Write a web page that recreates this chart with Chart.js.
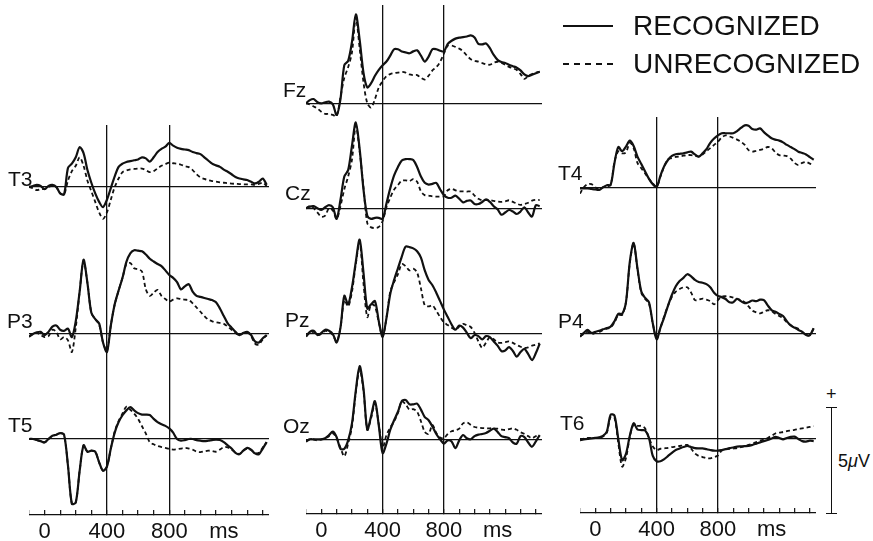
<!DOCTYPE html>
<html>
<head>
<meta charset="utf-8">
<title>ERP recognized vs unrecognized</title>
<script src="https://cdn.jsdelivr.net/npm/chart.js@4.4.1/dist/chart.umd.min.js"></script>
<style>
  body { margin: 0; background: #fff; }
  #fig {
    position: relative;
    width: 873px;
    height: 541px;
    overflow: hidden;
    font-family: "Liberation Sans", Arial, sans-serif;
    color: #111;
  }
  #fig canvas { position: absolute; }
  .lbl { position: absolute; font-size: 21px; line-height: 21px; white-space: nowrap; }
  .legend-text { position: absolute; font-size: 28px; line-height: 28px; white-space: nowrap; }
  .legend-line { position: absolute; width: 50px; height: 0; }
  .bar { position: absolute; background: #111; }
  .small { position: absolute; font-size: 18px; line-height: 18px; white-space: nowrap; }
</style>
</head>
<body>
<div id="fig"></div>
<script>
// time base (ms), one value every 25 ms
const times = [
  -100, -75, -50, -25, 0, 25, 50, 75,
  100, 125, 150, 175, 200, 225, 250, 275,
  300, 325, 350, 375, 400, 425, 450, 475,
  500, 525, 550, 575, 600, 625, 650, 675,
  700, 725, 750, 775, 800, 825, 850, 875,
  900, 925, 950, 975, 1000, 1025, 1050, 1075,
  1100, 1125, 1150, 1175, 1200, 1225, 1250, 1275,
  1300, 1325, 1350, 1375, 1400, 1425,
];

const tickMarks = [-100, 0, 100, 200, 300, 400, 500, 600, 700, 800, 900, 1000, 1100, 1200, 1300, 1400];
const tickLabels = [0, 400, 800];
const unitLabel = "ms";
const unitAt = 1150;
const markerTimes = [400, 800];
const seriesNames = ["RECOGNIZED", "UNRECOGNIZED"];
const scaleBarUV = 5;

// amplitudes in microvolts (positive up)
const t3Rec = [
  0, 0.05, 0.1, 0.05, -0.1, 0.05, 0.1, 0,
  -0.3, -0.35, 0.9, 1.1, 1.4, 1.88, 1.6, 0.8,
  0.2, -0.3, -0.7, -0.95, -0.6, -0.05, 0.5, 0.95,
  1.1, 1.18, 1.22, 1.26, 1.3, 1.4, 1.35, 1.2,
  1.4, 1.65, 1.8, 1.9, 2.08, 1.95, 1.85, 1.8,
  1.77, 1.74, 1.65, 1.6, 1.55, 1.4, 1.25, 1.1,
  1.02, 0.95, 0.82, 0.72, 0.6, 0.47, 0.4, 0.36,
  0.33, 0.25, 0.17, 0.25, 0.4, 0.1,
];
const t3Unrec = [
  0, -0.05, -0.15, -0.1, -0.1, 0, 0.05, 0,
  -0.3, -0.35, 0.3, 0.75, 1.0, 1.4, 1.0, 0.3,
  -0.2, -0.7, -1.2, -1.5, -1.2, -0.6, 0, 0.4,
  0.7, 0.78, 0.83, 0.85, 0.87, 0.87, 0.8, 0.7,
  0.75, 0.88, 1.0, 1.08, 1.15, 1.12, 1.1, 1.05,
  0.98, 0.94, 0.8, 0.6, 0.45, 0.38, 0.32, 0.28,
  0.25, 0.22, 0.2, 0.18, 0.16, 0.15, 0.14, 0.13,
  0.12, 0.12, 0.1, 0.15, 0.2, 0.05,
];
const p3Rec = [
  -0.13, 0, 0.08, 0.1, -0.05, 0.1, 0.35, 0.4,
  0.2, 0.15, 0.25, -0.15, 0.6, 2.0, 3.5, 2.4,
  1.0, 0.7, 0.5, -0.4, -0.85, 0.4, 1.4, 2.05,
  2.65, 3.4, 3.8, 3.95, 3.93, 3.9, 3.75, 3.55,
  3.42, 3.3, 3.2, 3.0, 2.78, 2.65, 2.45, 2.1,
  2.25, 2.35, 2.0, 1.8, 1.75, 1.7, 1.65, 1.6,
  1.5, 1.2, 0.85, 0.5, 0.3, 0.1, -0.05, 0.05,
  0.1, -0.05, -0.35, -0.4, -0.2, -0.05,
];
const p3Unrec = [
  -0.1, 0, 0.05, -0.05, -0.15, -0.1, 0.2, 0.1,
  -0.25, -0.15, -0.3, -0.85, 0.3, 2.0, 3.45, 2.4,
  1.0, 0.7, 0.45, -0.4, -0.8, 0.4, 1.4, 2.05,
  2.65, 3.3, 3.35, 3.1, 3.05, 2.95, 2.1, 1.8,
  1.95, 2.08, 1.8, 1.65, 1.53, 1.62, 1.68, 1.65,
  1.62, 1.6, 1.45, 1.25, 1.05, 0.85, 0.68, 0.6,
  0.55, 0.52, 0.48, 0.35, 0.2, 0.05, -0.05, 0.05,
  0.1, -0.1, -0.45, -0.5, -0.25, -0.05,
];
const t5Rec = [
  0, 0, -0.05, -0.1, -0.16, 0, 0.15, 0.2,
  0.28, 0.2, -1.25, -3.05, -3.0, -1.5, -0.3, -0.6,
  -0.55, -0.6, -1.1, -1.5, -1.3, -0.45, 0.3, 0.8,
  1.12, 1.35, 1.5, 1.35, 1.22, 1.15, 1.15, 1.13,
  0.95, 0.8, 0.7, 0.62, 0.5, 0.3, 0, -0.08,
  -0.05, 0, 0, -0.05, -0.08, -0.1, -0.08, -0.05,
  -0.03, -0.05, -0.15, -0.3, -0.45, -0.65, -0.72, -0.55,
  -0.42, -0.5, -0.68, -0.72, -0.45, -0.15,
];
const t5Unrec = [
  0, 0, -0.05, -0.1, -0.16, 0, 0.15, 0.2,
  0.28, 0.2, -1.25, -3.05, -3.0, -1.5, -0.3, -0.6,
  -0.55, -0.6, -1.1, -1.5, -1.3, -0.45, 0.35, 0.85,
  1.2, 1.52, 1.38, 1.2, 0.95, 0.6, 0.25, -0.15,
  -0.25, -0.33, -0.38, -0.42, -0.47, -0.5, -0.48, -0.45,
  -0.42, -0.45, -0.5, -0.6, -0.62, -0.58, -0.55, -0.57,
  -0.6, -0.5, -0.38, -0.4, -0.5, -0.62, -0.7, -0.55,
  -0.45, -0.52, -0.66, -0.65, -0.4, -0.15,
];
const fzRec = [
  0, 0.15, 0.2, 0.05, 0, 0.05, 0.08, -0.05,
  -0.55, 0.2, 1.8, 2.0, 2.9, 4.2, 3.0, 1.45,
  0.75, 0.95, 1.3, 1.58, 1.8, 1.97, 2.25, 2.55,
  2.55, 2.44, 2.4, 2.36, 2.45, 2.5, 2.25, 1.97,
  2.2, 2.55, 2.55, 2.48, 2.45, 2.8, 2.95, 3.05,
  3.1, 3.12, 3.15, 3.2, 3.1, 2.8, 2.78, 2.82,
  2.6, 2.28, 2.05, 1.95, 1.9, 1.82, 1.75, 1.68,
  1.55, 1.36, 1.28, 1.35, 1.42, 1.49,
];
const fzUnrec = [
  0, -0.05, -0.15, -0.25, -0.4, -0.5, -0.5, -0.55,
  -0.62, 0.3, 1.2, 1.7, 2.4, 4.05, 2.6, 1.0,
  0, -0.2, 0.2, 0.75, 1.05, 1.28, 1.38, 1.42,
  1.45, 1.48, 1.45, 1.36, 1.33, 1.33, 1.2, 1.12,
  1.3, 1.55, 1.7, 1.95, 2.35, 2.72, 2.72, 2.66,
  2.58, 2.45, 2.25, 2.08, 2.0, 1.97, 1.9, 1.84,
  1.82, 1.92, 1.96, 1.9, 1.82, 1.72, 1.65, 1.57,
  1.38, 1.15, 1.28, 1.38, 1.45, 1.5,
];
const czRec = [
  0, 0.08, 0.1, 0, -0.08, 0.05, 0.15, 0.05,
  -0.5, 0.4, 1.5, 1.8, 2.95, 4.05, 2.8, 0.9,
  -0.35, -0.5, -0.45, -0.45, -0.5, 0.22, 0.95, 1.55,
  1.95, 2.25, 2.32, 2.32, 2.28, 1.95, 1.5, 1.2,
  1.12, 1.15, 1.2, 0.9, 0.62, 0.5, 0.5, 0.6,
  0.45, 0.28, 0.35, 0.37, 0.2, 0.2, 0.3, 0.42,
  0.3, 0.1, -0.05, -0.3, -0.2, -0.08, -0.15, -0.27,
  -0.15, 0.05, -0.2, -0.39, 0.15, 0.1,
];
const czUnrec = [
  0, 0.1, 0, -0.2, -0.4, -0.35, 0, -0.1,
  -0.5, 0.1, 0.9, 1.5, 2.3, 3.9, 2.7, 1.0,
  -0.7, -0.9, -0.93, -0.88, -0.6, 0.05, 0.5, 0.88,
  1.1, 1.3, 1.32, 1.28, 1.38, 1.25, 0.8, 0.62,
  0.6, 0.56, 0.55, 0.55, 0.58, 0.85, 0.92, 0.85,
  0.8, 0.8, 0.79, 0.79, 0.6, 0.45, 0.38, 0.39,
  0.39, 0.35, 0.32, 0.3, 0.33, 0.38, 0.3, 0.22,
  0.16, 0.2, 0.26, 0.36, 0.4, 0.39,
];
const pzRec = [
  -0.12, 0.1, 0.15, -0.05, 0.05, 0.2, 0.15, 0,
  -0.4, 0.3, 1.8, 1.4, 2.2, 3.4, 4.45, 2.9,
  1.2, 1.4, 1.55, 0.6, -0.13, 0.75, 1.9, 2.55,
  3.1, 3.65, 4.12, 4.1, 4.04, 3.9, 3.6, 3.0,
  2.55, 2.3, 1.95, 1.55, 1.15, 0.8, 0.45, 0.2,
  0.4, 0.3, 0.05, -0.2, -0.05, -0.1, -0.25, -0.1,
  -0.15, -0.35, -0.55, -0.8, -0.78, -0.62, -0.8, -1.07,
  -0.85, -0.7, -0.95, -1.23, -0.9, -0.45,
];
const pzUnrec = [
  -0.1, 0.05, 0.1, -0.05, 0, 0.15, 0.1, -0.05,
  -0.35, 0.3, 1.6, 1.3, 2.0, 3.3, 4.35, 2.4,
  0.8, 1.4, 1.3, 0.55, -0.13, 0.75, 2.0, 2.45,
  2.82, 3.3, 3.2, 3.0, 3.08, 2.9, 2.15, 1.35,
  1.3, 1.35, 1.1, 0.8, 0.55, 0.42, 0.3, 0.2,
  0.35, 0.48, 0.4, 0.33, 0.05, -0.35, -0.65, -0.4,
  -0.15, -0.25, -0.4, -0.42, -0.38, -0.35, -0.42, -0.52,
  -0.6, -0.66, -0.63, -0.55, -0.5, -0.44,
];
const ozRec = [
  -0.11, 0, 0, 0, 0, 0.05, 0.2, 0.36,
  0.1, -0.45, -0.45, -0.05, 0.75, 2.3, 3.45, 2.4,
  0.45, 1.1, 1.8, 0.65, -0.65, -0.2, 0.45, 0.9,
  1.3, 1.8, 1.85, 1.65, 1.65, 1.68, 1.4, 1.05,
  0.9, 0.6, 0.25, 0, -0.2, -0.05, -0.1, -0.42,
  -0.05, 0.2, 0.05, 0, 0.15, 0.22, 0.25, 0.3,
  0.4, 0.5, 0.35, 0.15, 0.1, 0.05, -0.15, -0.2,
  0.15, 0.1, -0.15, -0.35, -0.1, 0.2,
];
const ozUnrec = [
  -0.05, 0, 0, -0.05, 0, 0.05, 0.15, 0.28,
  0.05, -0.4, -0.8, -0.2, 0.6, 2.2, 3.3, 2.3,
  0.45, 1.0, 1.7, 0.7, -0.4, 0.2, 0.55, 0.85,
  1.25, 1.8, 1.65, 1.4, 1.42, 1.3, 0.85, 0.35,
  0.25, 0.68, 0.3, 0.08, 0.05, 0.25, 0.38, 0.42,
  0.5, 0.75, 0.8, 0.68, 0.58, 0.55, 0.53, 0.52,
  0.52, 0.52, 0.5, 0.46, 0.44, 0.48, 0.52, 0.45,
  0.33, 0.26, 0.15, 0.05, 0.15, 0.2,
];
const t4Rec = [
  -0.05, -0.05, -0.05, -0.08, -0.1, -0.12, 0, 0.1,
  0.12, 1.15, 1.9, 1.7, 1.92, 2.2, 1.95, 1.45,
  1.1, 0.75, 0.4, 0.15, 0.02, 0.55, 1.0, 1.3,
  1.48, 1.56, 1.58, 1.6, 1.65, 1.68, 1.55, 1.45,
  1.6, 1.8, 2.1, 2.3, 2.45, 2.55, 2.55, 2.55,
  2.55, 2.65, 2.8, 2.92, 2.9, 2.75, 2.72, 2.78,
  2.6, 2.45, 2.31, 2.25, 2.2, 2.12, 2.0, 1.9,
  1.8, 1.68, 1.62, 1.55, 1.42, 1.3,
];
const t4Unrec = [
  -0.3, 0, 0.15, 0.15, 0, -0.1, 0, 0.05,
  0.1, 1.2, 1.7, 1.6, 1.65, 2.1, 1.85, 1.15,
  0.9, 0.65, 0.4, 0.18, 0.02, 0.5, 1.0, 1.33,
  1.38, 1.43, 1.46, 1.49, 1.52, 1.52, 1.48, 1.45,
  1.55, 1.7, 1.85, 2.0, 2.15, 2.35, 2.45, 2.4,
  2.33, 2.25, 2.15, 2.0, 1.75, 1.68, 1.72, 1.76,
  1.82, 1.9, 1.85, 1.65, 1.52, 1.5, 1.47, 1.35,
  1.15, 1.05, 1.15, 1.2, 1.12, 1.05,
];
const p4Rec = [
  -0.13, 0.05, 0.19, 0.05, 0.1, 0.15, 0.22, 0.28,
  0.35, 0.6, 0.95, 0.95, 1.5, 3.4, 4.3, 3.1,
  2.0, 1.7, 1.5, 0.5, -0.25, 0.3, 0.8, 1.35,
  1.85, 2.25, 2.5, 2.65, 2.82, 2.72, 2.55, 2.45,
  2.42, 2.35, 2.2, 1.95, 1.8, 1.74, 1.65, 1.5,
  1.5, 1.66, 1.55, 1.45, 1.5, 1.58, 1.55, 1.62,
  1.6, 1.35, 1.13, 1.05, 0.95, 0.85, 0.6, 0.4,
  0.3, 0.19, 0.1, -0.05, -0.05, 0.27,
];
const p4Unrec = [
  -0.1, 0, 0.1, 0, 0.05, 0.1, 0.18, 0.25,
  0.3, 0.55, 0.9, 0.9, 1.5, 3.35, 4.28, 3.05,
  1.95, 1.65, 1.45, 0.5, -0.22, 0.3, 0.85, 1.35,
  1.75, 2.0, 2.12, 2.2, 2.2, 1.95, 1.6, 1.62,
  1.67, 1.62, 1.55, 1.4, 1.6, 1.76, 1.78, 1.76,
  1.72, 1.65, 1.6, 1.5, 1.3, 1.1, 1.02, 0.97,
  1.05, 1.12, 1.08, 0.95, 0.85, 0.75, 0.55, 0.42,
  0.32, 0.25, 0.1, -0.05, -0.05, 0.27,
];
const t6Rec = [
  -0.05, -0.02, 0, 0.03, 0.05, 0.08, 0.15, 0.35,
  1.15, 1.1, 0, -1.0, -0.7, 0.15, 0.74, 0.45,
  0.42, 0.4, 0.05, -0.8, -1.05, -1.05, -0.95, -0.8,
  -0.65, -0.52, -0.45, -0.38, -0.33, -0.38, -0.43, -0.44,
  -0.44, -0.48, -0.52, -0.55, -0.55, -0.52, -0.48, -0.43,
  -0.4, -0.36, -0.35, -0.34, -0.33, -0.28, -0.22, -0.16,
  -0.1, -0.05, 0.02, 0.1, 0.05, -0.02, 0.05, 0.1,
  0.11, 0, -0.1, -0.12, -0.08, -0.1,
];
const t6Unrec = [
  -0.02, 0.02, 0.05, 0.05, 0.05, 0.05, 0.12, 0.3,
  1.05, 1.0, -0.2, -1.3, -0.9, 0.1, 0.7, 0.62,
  0.62, 0.5, 0.05, -0.35, -0.52, -0.46, -0.44, -0.42,
  -0.38, -0.36, -0.33, -0.3, -0.28, -0.45, -0.68, -0.8,
  -0.85, -0.9, -0.91, -0.86, -0.78, -0.55, -0.5, -0.47,
  -0.45, -0.43, -0.38, -0.33, -0.28, -0.22, -0.15, -0.08,
  -0.03, 0.05, 0.15, 0.26, 0.3, 0.33, 0.37, 0.4,
  0.43, 0.47, 0.5, 0.53, 0.57, 0.61,
];

// =================== layout ===================

const ink = "#111";
const pxPerUV = 21.2;
const xMin = -100;
const xMax = 1440;

const columns = [
  { left: 29, width: 240 },
  { left: 306, width: 236 },
  { left: 580, width: 236 },
];

const panels = [
  { name: "T3", rec: t3Rec, unrec: t3Unrec, col: 0, top: 125, bottom: 235, base: 187, lx: 8, ly: 186 },
  { name: "P3", rec: p3Rec, unrec: p3Unrec, col: 0, top: 235, bottom: 380, base: 334, lx: 7, ly: 328 },
  { name: "T5", rec: t5Rec, unrec: t5Unrec, col: 0, top: 380, bottom: 541, axisY: 515, base: 439, lx: 8, ly: 432 },
  { name: "Fz", rec: fzRec, unrec: fzUnrec, col: 1, top: 5, bottom: 118, base: 103.3, lx: 283, ly: 97 },
  { name: "Cz", rec: czRec, unrec: czUnrec, col: 1, top: 118, bottom: 233, base: 208.3, lx: 285, ly: 200 },
  { name: "Pz", rec: pzRec, unrec: pzUnrec, col: 1, top: 233, bottom: 362, base: 334, lx: 285, ly: 327 },
  { name: "Oz", rec: ozRec, unrec: ozUnrec, col: 1, top: 362, bottom: 541, axisY: 514, base: 439.3, lx: 283, ly: 433 },
  { name: "T4", rec: t4Rec, unrec: t4Unrec, col: 2, top: 117, bottom: 217, base: 187.3, lx: 558, ly: 180 },
  { name: "P4", rec: p4Rec, unrec: p4Unrec, col: 2, top: 217, bottom: 375, base: 334, lx: 558, ly: 328 },
  { name: "T6", rec: t6Rec, unrec: t6Unrec, col: 2, top: 375, bottom: 541, axisY: 513, base: 439, lx: 560, ly: 430 },
];

Chart.defaults.font.family = '"Liberation Sans", Arial, sans-serif';
Chart.defaults.color = ink;

const fig = document.getElementById("fig");

function addText(cls, text, left, top) {
  const el = document.createElement("div");
  el.className = cls;
  el.innerHTML = text;
  el.style.left = left + "px";
  el.style.top = top + "px";
  fig.appendChild(el);
  return el;
}

function toPoints(values) {
  return values.map((v, i) => ({ x: times[i], y: v }));
}

const axisTicks = tickMarks.concat([unitAt]).sort((a, b) => a - b);

panels.forEach((p) => {
  const col = columns[p.col];
  const hasAxis = p.axisY !== undefined;
  const areaBottom = hasAxis ? p.axisY : p.bottom;

  const canvas = document.createElement("canvas");
  canvas.width = col.width;
  canvas.height = p.bottom - p.top;
  canvas.style.left = col.left + "px";
  canvas.style.top = p.top + "px";
  fig.appendChild(canvas);

  // electrode name, baseline of text at p.ly
  addText("lbl", p.name, p.lx, p.ly - 18);

  new Chart(canvas, {
    type: "line",
    data: {
      datasets: [
        {
          label: seriesNames[0],
          data: toPoints(p.rec),
          borderColor: ink,
          borderWidth: 2.2,
          pointRadius: 0,
          tension: 0.3,
          clip: false,
        },
        {
          label: seriesNames[1],
          data: toPoints(p.unrec),
          borderColor: ink,
          borderWidth: 1.8,
          borderDash: [4, 3],
          pointRadius: 0,
          tension: 0.3,
          clip: false,
        },
      ],
    },
    options: {
      responsive: false,
      animation: false,
      events: [],
      layout: { padding: 0, autoPadding: false },
      plugins: {
        legend: { display: false },
        tooltip: { enabled: false },
      },
      scales: {
        x: {
          type: "linear",
          min: xMin,
          max: xMax,
          afterBuildTicks: (axis) => {
            const vals = hasAxis ? axisTicks : markerTimes;
            axis.ticks = vals.map((v) => ({ value: v }));
          },
          afterFit: (axis) => {
            axis.height = hasAxis ? p.bottom - p.axisY : 0;
            axis.paddingLeft = 0;
            axis.paddingRight = 0;
          },
          grid: {
            color: (ctx) =>
              ctx.tick && markerTimes.includes(ctx.tick.value) ? ink : "rgba(0,0,0,0)",
            lineWidth: 1.3,
            drawTicks: hasAxis,
            tickLength: -5,
            tickWidth: 1.2,
            tickColor: (ctx) =>
              ctx.tick && ctx.tick.value === unitAt ? "rgba(0,0,0,0)" : ink,
          },
          border: { display: hasAxis, color: ink, width: 1.3 },
          ticks: {
            display: hasAxis,
            autoSkip: false,
            maxRotation: 0,
            padding: 9,
            color: ink,
            font: { size: 22 },
            callback: (v) =>
              tickLabels.includes(v) ? String(v) : v === unitAt ? unitLabel : "",
          },
        },
        y: {
          min: -(areaBottom - p.base) / pxPerUV,
          max: (p.base - p.top) / pxPerUV,
          afterBuildTicks: (axis) => {
            axis.ticks = [{ value: 0 }];
          },
          afterFit: (axis) => {
            axis.width = 0;
          },
          grid: { color: ink, lineWidth: 1.2, drawTicks: false },
          border: { display: false },
          ticks: { display: false },
        },
      },
    },
  });
});

// =================== legend ===================

const solid = document.createElement("div");
solid.className = "legend-line";
solid.style.left = "563px";
solid.style.top = "25px";
solid.style.borderTop = "2px solid " + ink;
fig.appendChild(solid);
addText("legend-text", seriesNames[0], 633, 12);

const dashed = document.createElement("div");
dashed.className = "legend-line";
dashed.style.left = "563px";
dashed.style.top = "63px";
dashed.style.borderTop = "2px dashed " + ink;
fig.appendChild(dashed);
addText("legend-text", seriesNames[1], 633, 50);

// =================== 5 uV scale bar ===================

const barX = 831;
const barBottom = 513;
const barLen = scaleBarUV * pxPerUV;

function addBar(left, top, w, h) {
  const el = document.createElement("div");
  el.className = "bar";
  el.style.left = left + "px";
  el.style.top = top + "px";
  el.style.width = w + "px";
  el.style.height = h + "px";
  fig.appendChild(el);
}

addBar(barX - 0.5, barBottom - barLen, 1.3, barLen);
addBar(barX - 5, barBottom - barLen, 11, 1.3);
addBar(barX - 5, barBottom, 11, 1.3);
addText("small", "+", barX - 5, barBottom - barLen - 22);
addText("small", scaleBarUV + '<span style="font-style:italic">μ</span>V', barX + 7, 452);
</script>
</body>
</html>
